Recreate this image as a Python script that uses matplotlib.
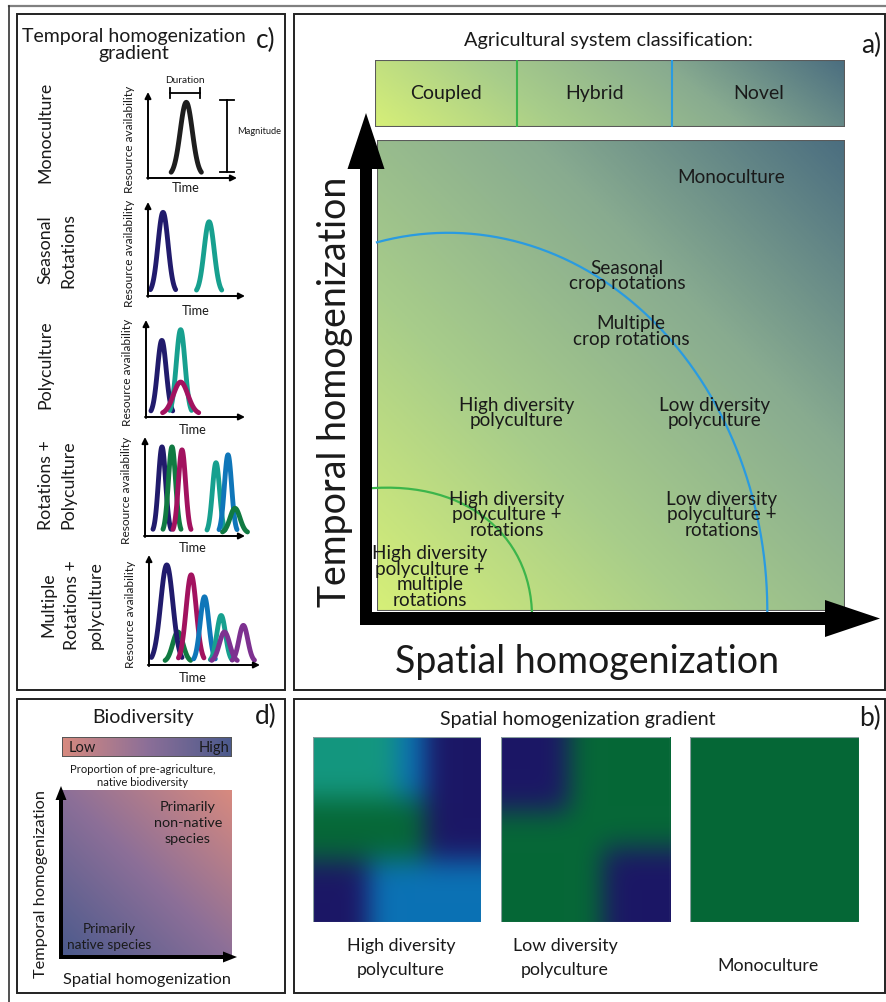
import numpy as np
import matplotlib
matplotlib.use('Agg')
import matplotlib.pyplot as plt
from matplotlib.colors import LinearSegmentedColormap, to_rgb
from matplotlib.patches import Rectangle, FancyArrow, PathPatch
from matplotlib.path import Path
from matplotlib.lines import Line2D

plt.rcParams['font.family'] = ['Lato', 'DejaVu Sans']

# ---------------- data ----------------
# panel a: agricultural system classification
class_names = ['Coupled', 'Hybrid', 'Novel']
class_edges = [0.0, 0.302, 0.632, 1.0]
class_edge_colors = ['#3cb54b', '#2a9be0']
system_labels = ['Monoculture', 'Seasonal\ncrop rotations', 'Multiple\ncrop rotations',
                 'High diversity\npolyculture', 'Low diversity\npolyculture',
                 'High diversity\npolyculture +\nrotations', 'Low diversity\npolyculture +\nrotations',
                 'High diversity\npolyculture +\nmultiple\nrotations']
system_spatial = [0.756, 0.534, 0.543, 0.299, 0.722, 0.278, 0.737, 0.113]
system_temporal = [0.921, 0.711, 0.594, 0.420, 0.420, 0.204, 0.204, 0.072]
novel_arc_center = (0.152, 0.0)
novel_arc_radii = (0.682, 0.803)
coupled_arc_ctrl_x = [-0.021, 0.199, 0.338, 0.331]
coupled_arc_ctrl_y = [0.260, 0.279, 0.151, -0.026]

# panel c: resource-availability peaks per row (time, height, width)
row_names = ['Monoculture', 'Seasonal\nRotations', 'Polyculture',
             'Rotations +\nPolyculture', 'Multiple\nRotations +\npolyculture']
NAVY, TEAL, MAG, GRN, BLU, PUR, BLK = '#211b6c', '#17a08f', '#a2125f', '#117a42', '#0f76b9', '#7d3190', '#1e1e1e'
mono_t, mono_h, mono_w, mono_c = [43], [88], [6.8], [BLK]
seas_t, seas_h, seas_w, seas_c = [15.5, 63], [89, 79], [5.2, 5.2], [NAVY, TEAL]
poly_t, poly_h, poly_w, poly_c = [16, 35, 35], [79, 90, 36], [4.4, 4.4, 7.3], [NAVY, TEAL, MAG]
rotp_t = [17, 27, 37, 71, 83, 90]
rotp_h = [90, 90, 87, 74, 82, 28]
rotp_w = [3.6, 3.6, 3.6, 3.6, 3.6, 5.0]
rotp_c = [NAVY, GRN, MAG, TEAL, BLU, GRN]
mult_t = [26, 16, 38, 50, 65, 68, 85]
mult_h = [30, 91, 82, 62, 45, 30, 36]
mult_w = [4.6, 5.5, 4.6, 3.9, 3.9, 4.6, 4.0]
mult_c = [GRN, NAVY, MAG, BLU, TEAL, PUR, PUR]

# panel b: landscape patches (0 navy, 1 green, 2 blue, 3 teal)
patch_palette = ['#1c1766', '#066837', '#0b72b5', '#14977f']
high_div_grid = [[3, 3, 3, 2, 0, 0],
                 [3, 3, 3, 2, 0, 0],
                 [1, 1, 1, 1, 0, 0],
                 [1, 1, 1, 1, 0, 0],
                 [0, 0, 2, 2, 2, 2],
                 [0, 0, 2, 2, 2, 2]]
low_div_grid = [[0, 0, 1, 1, 1],
                [0, 0, 1, 1, 1],
                [1, 1, 1, 1, 1],
                [1, 1, 1, 0, 0],
                [1, 1, 1, 0, 0]]
mono_grid = [[1]]
landscape_names = ['High diversity\npolyculture', 'Low diversity\npolyculture', 'Monoculture']

# panel d
bio_colors = ['#d78a7f', '#8c6f98', '#4b5a8c']

W, H = 886, 1002
fig = plt.figure(figsize=(W / 100, H / 100), dpi=100)


def pax(x0, y0, x1, y1, z=1):
    ax = fig.add_axes([x0 / W, 1 - y1 / H, (x1 - x0) / W, (y1 - y0) / H], zorder=z)
    ax.set_xlim(0, 1)
    ax.set_ylim(0, 1)
    ax.axis('off')
    return ax


bg = fig.add_axes([0, 0, 1, 1], zorder=0)
bg.set_xlim(0, W)
bg.set_ylim(H, 0)
bg.axis('off')

ov = fig.add_axes([0, 0, 1, 1], zorder=10)
ov.set_xlim(0, W)
ov.set_ylim(H, 0)
ov.axis('off')

# frames
bg.add_line(Line2D([9, 886], [6, 6], color='#808080', lw=1.6))
bg.add_line(Line2D([9, 9], [6, 1002], color='#333333', lw=1.2))
for (x0, y0, x1, y1) in [(17, 14, 285, 690), (294, 14, 885, 690), (17, 699, 285, 993), (294, 699, 885, 993)]:
    bg.add_patch(Rectangle((x0, y0), x1 - x0, y1 - y0, fill=False, ec='#222222', lw=1.4))

TXT = '#1a1a1a'

# ---------------- panel a ----------------
agri_cmap = LinearSegmentedColormap.from_list('agri', ['#d6ef78', '#a8cd8a', '#88ab90', '#4b6e80'])
bg.text(608, 40, 'Agricultural system classification:', ha='center', va='center', fontsize=14.3, color=TXT)
bg.text(871, 45, 'a)', ha='center', va='center', fontsize=19, color=TXT)

ab = pax(375, 60, 845, 127)
gx, gy = np.meshgrid(np.linspace(0, 1, 300), np.linspace(0, 1, 60))
ab.imshow(0.85 * gx + 0.15 * gy, extent=(0, 1, 0, 1), origin='lower', cmap=agri_cmap,
          vmin=0, vmax=1, aspect='auto')
ab.add_patch(Rectangle((0, 0), 1, 1, fill=False, ec='#5a5a5a', lw=1.5))
for xe, ce in zip(class_edges[1:-1], class_edge_colors):
    ab.plot([xe, xe], [0, 1], color=ce, lw=1.5)
for i, name in enumerate(class_names):
    ab.text((class_edges[i] + class_edges[i + 1]) / 2, 0.5, name, ha='center', va='center',
            fontsize=14, color=TXT)

aa = pax(377, 140, 845, 611)
gx, gy = np.meshgrid(np.linspace(0, 1, 300), np.linspace(0, 1, 300))
aa.imshow((gx + gy) / 2, extent=(0, 1, 0, 1), origin='lower', cmap=agri_cmap, vmin=0, vmax=1,
          aspect='auto')
aa.add_patch(Rectangle((0, 0), 1, 1, fill=False, ec='#5a5a5a', lw=1.5))
cx, cy = novel_arc_center
rx, ry = novel_arc_radii
t0 = np.arccos(-cx / rx)
tt = np.linspace(t0, 0, 200)
aa.plot(cx + rx * np.cos(tt), cy + ry * np.sin(tt), color='#2a9be0', lw=1.6, clip_on=False)
verts = list(zip(coupled_arc_ctrl_x, coupled_arc_ctrl_y))
aa.add_patch(PathPatch(Path(verts, [Path.MOVETO, Path.CURVE4, Path.CURVE4, Path.CURVE4]),
                       fill=False, ec='#3cb54b', lw=1.6, clip_on=False))
for s, xs, ys in zip(system_labels, system_spatial, system_temporal):
    aa.text(xs, ys, s, ha='center', va='center', fontsize=13.6, color=TXT, linespacing=0.9)

ov.add_patch(FancyArrow(366, 625, 0, 113 - 625, width=12, head_width=37, head_length=56,
                        length_includes_head=True, color='black', lw=0))
ov.add_patch(FancyArrow(360, 618.5, 880 - 360, 0, width=13, head_width=37, head_length=55,
                        length_includes_head=True, color='black', lw=0))
bg.text(335, 392, 'Temporal homogenization', rotation=90, ha='center', va='center', fontsize=27, color=TXT)
bg.text(587, 662, 'Spatial homogenization', ha='center', va='center', fontsize=27, color=TXT)

# ---------------- panel c ----------------
bg.text(134, 45, 'Temporal homogenization\ngradient', ha='center', va='center', fontsize=14,
        color=TXT, linespacing=1.03)
bg.text(266, 40, 'c)', ha='center', va='center', fontsize=19, color=TXT)

row_label_x = [45, 57, 45, 57, 72]
row_label_y = [132, 250, 365, 485, 605]
row_label_ls = [1.5, 1.5, 1.5, 1.5, 1.6]
for s, x, y, ls in zip(row_names, row_label_x, row_label_y, row_label_ls):
    bg.text(x, y, s, rotation=90, ha='center', va='center', fontsize=12.8, color=TXT,
            linespacing=ls, multialignment='center')

plot_boxes = [(148, 92, 237, 178), (148, 202, 245, 296), (146, 320, 245, 417),
              (145, 437, 245, 536), (149, 555, 260, 665)]
time_label_x = [186, 196, 193, 193, 193]
time_label_y = [188, 311, 430, 548, 678]
peak_sets = [(mono_t, mono_h, mono_w, mono_c), (seas_t, seas_h, seas_w, seas_c),
             (poly_t, poly_h, poly_w, poly_c), (rotp_t, rotp_h, rotp_w, rotp_c),
             (mult_t, mult_h, mult_w, mult_c)]
for (x0, y0, x1, y1), (pt, ph, pw, pc), tx, ty in zip(plot_boxes, peak_sets, time_label_x, time_label_y):
    ax = fig.add_axes([x0 / W, 1 - y1 / H, (x1 - x0) / W, (y1 - y0) / H], zorder=2)
    ax.set_xlim(0, 100)
    ax.set_ylim(0, 100)
    ax.axis('off')
    base = 3
    for c, h, w, col in zip(pt, ph, pw, pc):
        z = np.linspace(-2.5, 2.5, 120)
        ax.plot(c + z * w, base + (h - base) * np.exp(-0.5 * z ** 2), color=col, lw=3.5,
                solid_capstyle='round', clip_on=False)
    ax.annotate('', xy=(0, 100), xytext=(0, -1), arrowprops=dict(arrowstyle='-|>', lw=1.4, color='k',
                mutation_scale=9, shrinkA=0, shrinkB=0), annotation_clip=False)
    ax.annotate('', xy=(100, 0), xytext=(-1, 0), arrowprops=dict(arrowstyle='-|>', lw=1.4, color='k',
                mutation_scale=9, shrinkA=0, shrinkB=0), annotation_clip=False)
    bg.text(x0 - 18, (y0 + y1) / 2 + 4, 'Resource availability', rotation=90, ha='center', va='center',
            fontsize=8.6, color=TXT)
    bg.text(tx, ty, 'Time', ha='center', va='center', fontsize=9.2, color=TXT)

# duration / magnitude marks
bg.add_line(Line2D([170, 200], [93, 93], color='k', lw=1.3))
bg.add_line(Line2D([170, 170], [88, 98], color='k', lw=1.3))
bg.add_line(Line2D([200, 200], [88, 98], color='k', lw=1.3))
bg.text(185, 80, 'Duration', ha='center', va='center', fontsize=7.3, color=TXT)
bg.add_line(Line2D([227, 227], [100, 172], color='k', lw=1.3))
bg.add_line(Line2D([220, 234], [100, 100], color='k', lw=1.3))
bg.add_line(Line2D([220, 234], [172, 172], color='k', lw=1.3))
bg.text(259, 131, 'Magnitude', ha='center', va='center', fontsize=6.7, color=TXT)

# ---------------- panel d ----------------
bio_cmap = LinearSegmentedColormap.from_list('bio', bio_colors)
bg.text(143, 718, 'Biodiversity', ha='center', va='center', fontsize=14, color=TXT)
bg.text(266, 716, 'd)', ha='center', va='center', fontsize=19, color=TXT)
db = pax(62, 737, 232, 757)
gx, gy = np.meshgrid(np.linspace(0, 1, 200), np.linspace(0, 1, 20))
db.imshow(gx, extent=(0, 1, 0, 1), origin='lower', cmap=bio_cmap, vmin=0, vmax=1, aspect='auto')
db.add_patch(Rectangle((0, 0), 1, 1, fill=False, ec='#555555', lw=1.4))
db.text(0.04, 0.45, 'Low', ha='left', va='center', fontsize=10.5, color=TXT)
db.text(0.985, 0.45, 'High', ha='right', va='center', fontsize=10.5, color=TXT)
bg.text(143, 776, 'Proportion of pre-agriculture,\nnative biodiversity', ha='center', va='center',
        fontsize=8.1, color=TXT, linespacing=1.12)
dd = pax(62, 790, 232, 957)
gx, gy = np.meshgrid(np.linspace(0, 1, 200), np.linspace(0, 1, 200))
dd.imshow(1 - (gx + gy) / 2, extent=(0, 1, 0, 1), origin='lower', cmap=bio_cmap, vmin=0, vmax=1,
          aspect='auto')
dd.text(0.74, 0.80, 'Primarily\nnon-native\nspecies', ha='center', va='center', fontsize=10.4,
        color=TXT, linespacing=1.4)
dd.text(0.28, 0.12, 'Primarily\nnative species', ha='center', va='center', fontsize=9.8,
        color=TXT, linespacing=1.38)
ov.add_patch(FancyArrow(61, 959, 0, 786 - 959, width=4, head_width=11, head_length=14,
                        length_includes_head=True, color='black', lw=0))
ov.add_patch(FancyArrow(59, 957, 237 - 59, 0, width=4, head_width=11, head_length=14,
                        length_includes_head=True, color='black', lw=0))
bg.text(41, 884, 'Temporal homogenization', rotation=90, ha='center', va='center', fontsize=11.8, color=TXT)
bg.text(147, 980, 'Spatial homogenization', ha='center', va='center', fontsize=11.8, color=TXT)

# ---------------- panel b ----------------
bg.text(578, 719, 'Spatial homogenization gradient', ha='center', va='center', fontsize=14, color=TXT)
bg.text(870, 718, 'b)', ha='center', va='center', fontsize=19, color=TXT)


def blurred_field(grid, palette, n=120, sigma=9):
    grid = np.array(grid)
    rgb = np.array([to_rgb(palette[k]) for k in grid.ravel()]).reshape(grid.shape + (3,))
    r = n // grid.shape[0]
    img = np.repeat(np.repeat(rgb, r, axis=0), r, axis=1)
    k = np.arange(-3 * sigma, 3 * sigma + 1)
    g = np.exp(-0.5 * (k / sigma) ** 2)
    g /= g.sum()
    pad = 3 * sigma
    img = np.pad(img, ((pad, pad), (pad, pad), (0, 0)), mode='edge')
    img = np.apply_along_axis(lambda m: np.convolve(m, g, mode='valid'), 0, img)
    img = np.apply_along_axis(lambda m: np.convolve(m, g, mode='valid'), 1, img)
    return np.clip(img, 0, 1)


square_x = [(313, 481), (501, 670), (690, 859)]
label_x = [401, 565, 768]
for (x0, x1), grid, name, lx in zip(square_x, [high_div_grid, low_div_grid, mono_grid], landscape_names, label_x):
    sq = pax(x0, 737, x1, 922)
    sq.imshow(blurred_field(grid, patch_palette), extent=(0, 1, 0, 1), aspect='auto')
    sq.add_patch(Rectangle((0, 0), 1, 1, fill=False, ec='#8aa0a0', lw=0.8))
    if '\n' in name:
        bg.text(lx, 958, name, ha='center', va='center', fontsize=12.8, color=TXT, linespacing=1.6)
    else:
        bg.text(lx, 966, name, ha='center', va='center', fontsize=12.8, color=TXT)

fig.savefig('out.png', dpi=100)
